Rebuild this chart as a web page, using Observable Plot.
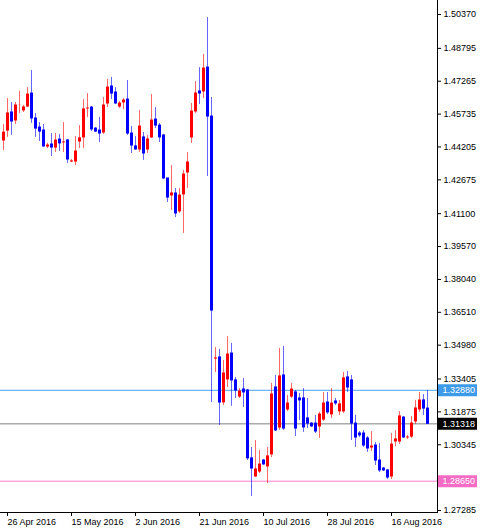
<!DOCTYPE html>
<html><head><meta charset="utf-8">
<script src="https://cdn.jsdelivr.net/npm/d3@7"></script>
<script src="https://cdn.jsdelivr.net/npm/@observablehq/plot@0.6"></script>
<style>
html,body{margin:0;padding:0;background:#fff;}
#chart svg{display:block;}
</style></head><body><div id="chart"></div>
<script>
// Daily bars (index 0 = 25 Apr 2016, Sunday bars included)
const open = [
1.4446,1.4492,1.4581,1.4539,1.4614,1.4586,1.4604,1.4669,1.4553,1.4511,
1.4497,1.4418,1.4432,1.4413,1.4455,1.4437,1.4451,1.4348,1.4348,1.4441,
1.4460,1.4595,1.4604,1.4506,1.4497,1.4483,1.4618,1.4702,1.4674,1.4604,
1.4623,1.4641,1.4483,1.4423,1.4404,1.4465,1.4404,1.4460,1.4548,1.4520,
1.4474,1.4274,1.4190,1.4204,1.4116,1.4195,1.4297,1.4460,1.4581,1.4679,
1.4674,1.4790,1.4562,1.3431,1.3441,1.3227,1.3334,1.3459,1.3334,1.3254,
1.3292,1.3287,1.2971,1.2882,1.2905,1.2961,1.2929,1.2985,1.3301,1.3110,
1.3357,1.3194,1.3254,1.3278,1.3250,1.3250,1.3157,1.3133,1.3133,1.3115,
1.3147,1.3231,1.3171,1.3236,1.3185,1.3185,1.3348,1.3334,1.3133,1.3087,
1.3087,1.3064,1.3017,1.3031,1.2961,1.2924,1.2915,1.2882,1.3045,1.3045,
1.3161,1.3064,1.3068,1.3138,1.3194,1.3241,1.3203];
const high = [
1.4525,1.4646,1.4627,1.4627,1.4679,1.4614,1.4697,1.4776,1.4576,1.4534,
1.4525,1.4437,1.4483,1.4483,1.4479,1.4534,1.4455,1.4362,1.4469,1.4520,
1.4641,1.4669,1.4609,1.4511,1.4558,1.4651,1.4735,1.4744,1.4697,1.4632,
1.4646,1.4730,1.4516,1.4469,1.4590,1.4488,1.4474,1.4665,1.4604,1.4530,
1.4479,1.4274,1.4334,1.4227,1.4227,1.4311,1.4395,1.4623,1.4725,1.4790,
1.4851,1.5023,1.4651,1.3487,1.3478,1.3427,1.3538,1.3506,1.3348,1.3296,
1.3343,1.3292,1.3022,1.3054,1.3008,1.2966,1.3022,1.3320,1.3357,1.3483,
1.3492,1.3264,1.3320,1.3287,1.3273,1.3296,1.3250,1.3138,1.3171,1.3185,
1.3278,1.3278,1.3296,1.3250,1.3241,1.3371,1.3376,1.3357,1.3171,1.3096,
1.3101,1.3073,1.3096,1.3045,1.3040,1.2929,1.2919,1.3087,1.3101,1.3189,
1.3166,1.3078,1.3166,1.3241,1.3278,1.3268,1.3287];
const low = [
1.4404,1.4465,1.4474,1.4525,1.4576,1.4581,1.4604,1.4530,1.4465,1.4446,
1.4418,1.4413,1.4376,1.4395,1.4399,1.4395,1.4344,1.4348,1.4334,1.4413,
1.4413,1.4558,1.4492,1.4488,1.4441,1.4479,1.4604,1.4641,1.4618,1.4600,
1.4595,1.4474,1.4390,1.4404,1.4395,1.4358,1.4390,1.4460,1.4506,1.4441,
1.4269,1.4162,1.4125,1.4092,1.4111,1.4018,1.4227,1.4437,1.4576,1.4618,
1.4646,1.4283,1.3231,1.3371,1.3124,1.3217,1.3301,1.3213,1.3250,1.3250,
1.3208,1.2961,1.2794,1.2882,1.2901,1.2938,1.2854,1.2975,1.3096,1.3101,
1.3101,1.3189,1.3250,1.3073,1.3147,1.3092,1.3110,1.3115,1.3087,1.3064,
1.3143,1.3175,1.3157,1.3217,1.3171,1.3180,1.3278,1.3054,1.3022,1.3068,
1.3022,1.2999,1.3003,1.2938,1.2905,1.2910,1.2873,1.2873,1.3026,1.3036,
1.3064,1.3059,1.3064,1.3129,1.3185,1.3171,1.3129];
const close = [
1.4492,1.4581,1.4539,1.4618,1.4618,1.4609,1.4669,1.4553,1.4506,1.4492,
1.4423,1.4432,1.4418,1.4455,1.4437,1.4446,1.4362,1.4358,1.4404,1.4465,
1.4600,1.4604,1.4502,1.4492,1.4483,1.4618,1.4702,1.4669,1.4623,1.4627,
1.4641,1.4483,1.4427,1.4409,1.4520,1.4390,1.4460,1.4548,1.4520,1.4465,
1.4274,1.4185,1.4209,1.4111,1.4199,1.4297,1.4353,1.4590,1.4674,1.4669,
1.4790,1.4562,1.3659,1.3441,1.3231,1.3371,1.3459,1.3334,1.3287,1.3287,
1.3278,1.2971,1.2924,1.2924,1.2947,1.2943,1.2985,1.3273,1.3101,1.3357,
1.3110,1.3231,1.3296,1.3110,1.3241,1.3115,1.3133,1.3120,1.3096,1.3180,
1.3231,1.3185,1.3231,1.3227,1.3227,1.3348,1.3301,1.3133,1.3068,1.3078,
1.3031,1.3017,1.3031,1.2961,1.2915,1.2915,1.2882,1.3040,1.3064,1.3171,
1.3068,1.3073,1.3138,1.3208,1.3245,1.3203,1.31318];

const xTickBars = [1, 17, 33, 49, 65, 81, 97];
const xTickLabels = ["26 Apr 2016","15 May 2016","2 Jun 2016","21 Jun 2016","10 Jul 2016","28 Jul 2016","16 Aug 2016"];
const yTickValues = [1.50370,1.48795,1.47265,1.45735,1.44205,1.42675,1.41100,1.39570,1.38040,1.36510,1.34980,1.33405,1.31875,1.30345,1.27285];

const levelValues = [1.32880, 1.31318, 1.28650];
const levelLineColors = ["#4aa3f0", "#808080", "#f77fd0"];
const levelBoxColors = ["#3d9ae8", "#000000", "#f66bc4"];
const levelBold = [false, true, false];

const upColor = "#ff0000", downColor = "#0000ff";

const bars = open.map((o, i) => ({i, open: o, high: high[i], low: low[i], close: close[i], col: close[i] >= o ? upColor : downColor}));
const levels = levelValues.map((v, k) => ({value: v, line: levelLineColors[k], box: levelBoxColors[k], bold: levelBold[k]}));

const chart = Plot.plot({
  width: 480, height: 532,
  marginTop: 0, marginLeft: 0, marginRight: 43, marginBottom: 20,
  style: {fontFamily: "'Liberation Sans', Arial, sans-serif", fontSize: "9px", background: "#fff", color: "#000"},
  x: {domain: [-0.75, 108.5], axis: null, label: null},
  y: {domain: [1.27192, 1.51022], axis: null, label: null},
  color: {type: "identity"},
  marks: [
    Plot.ruleY(levels, {y: "value", stroke: "line", strokeWidth: 1}),
    Plot.ruleX(bars, {x: "i", y1: "low", y2: "high", stroke: "col", strokeOpacity: 0.6}),
    Plot.ruleX(bars, {x: "i", y1: "open", y2: "close", stroke: "col", strokeWidth: 3, insetTop: -0.5, insetBottom: -0.5}),
    Plot.frame({anchor: "right", stroke: "#000"}),
    Plot.frame({anchor: "bottom", stroke: "#000"}),
    Plot.axisY({anchor: "right", label: null, ticks: yTickValues, tickSize: 3, tickPadding: 3, fontSize: 9, tickFormat: d => d.toFixed(5)}),
    Plot.axisX({anchor: "bottom", label: null, ticks: xTickBars, tickSize: 4, tickPadding: 2, fontSize: 9, textAnchor: "start", tickFormat: d => xTickLabels[xTickBars.indexOf(d)]}),
    Plot.ruleY(levels, {y: "value", stroke: "box", strokeWidth: 12, insetLeft: 438, insetRight: -40}),
    Plot.text(levels, {y: "value", text: d => d.value.toFixed(5), frameAnchor: "right", textAnchor: "start", dx: 5, fill: "white", fontSize: 9, fontWeight: d => d.bold ? "bold" : "normal"})
  ]
});
document.getElementById("chart").appendChild(chart);
</script>
</body></html>
